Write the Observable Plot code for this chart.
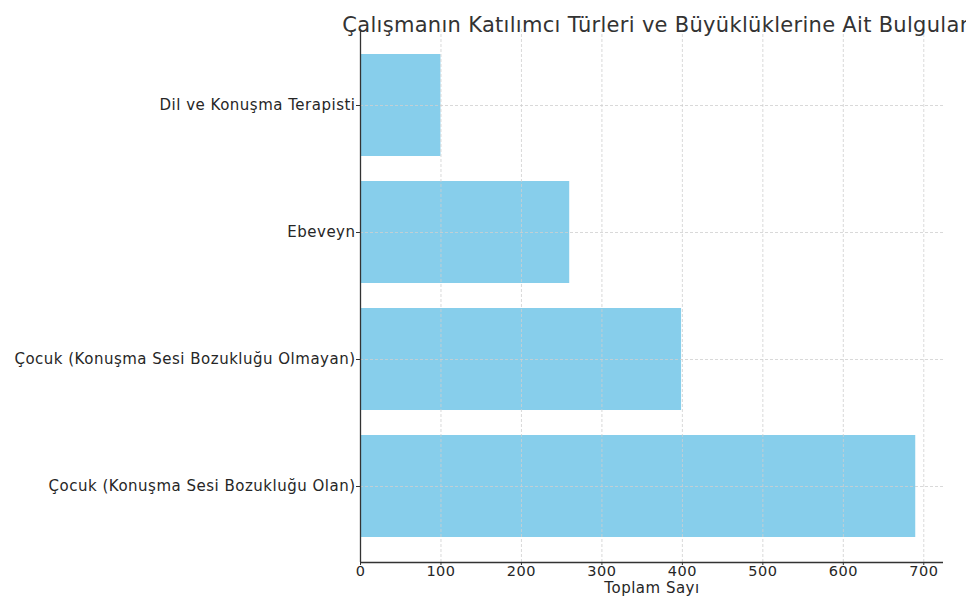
<!DOCTYPE html>
<html>
<head>
<meta charset="utf-8">
<script src="https://cdn.jsdelivr.net/npm/d3@7"></script>
<script src="https://cdn.jsdelivr.net/npm/@observablehq/plot@0.6"></script>
<style>
  html, body { margin: 0; padding: 0; background: #fff; }
  #chart { width: 966px; height: 599px; overflow: hidden; }
</style>
</head>
<body>
<div id="chart"></div>
<script>
const title = "Çalışmanın Katılımcı Türleri ve Büyüklüklerine Ait Bulguları";
const xLabel = "Toplam Sayı";
const categories = [
  "Dil ve Konuşma Terapisti",
  "Ebeveyn",
  "Çocuk (Konuşma Sesi Bozukluğu Olmayan)",
  "Çocuk (Konuşma Sesi Bozukluğu Olan)"
];
const values = [100, 260, 399, 690];
const xTicks = [0, 100, 200, 300, 400, 500, 600, 700];

const data = categories.map((c, i) => ({category: c, value: values[i]}));

const spineColor = "#333";
const gridColor = "#cfcfcf";
const textColor = "#262626";

const bottomSpine = (index, scales, values, dimensions) => {
  const {width, height, marginLeft, marginRight, marginBottom} = dimensions;
  const line = document.createElementNS("http://www.w3.org/2000/svg", "line");
  line.setAttribute("x1", marginLeft);
  line.setAttribute("x2", width - marginRight);
  line.setAttribute("y1", height - marginBottom + 0.5);
  line.setAttribute("y2", height - marginBottom + 0.5);
  line.setAttribute("stroke", spineColor);
  line.setAttribute("stroke-width", 1.3);
  return line;
};

const plot = Plot.plot({
  width: 966,
  height: 599,
  marginLeft: 360,
  marginRight: 23,
  marginTop: 29,
  marginBottom: 37,
  style: {fontFamily: "DejaVu Sans", fontSize: "15px", color: textColor, background: "#fff", letterSpacing: "0.5px"},
  x: {domain: [0, 724.5], ticks: xTicks, label: null},
  y: {domain: categories, paddingInner: 0.2, paddingOuter: 0.19, label: null},
  marks: [
    Plot.barX(data, {x: "value", y: "category", fill: "#87CEEB"}),
    Plot.gridX(xTicks, {stroke: gridColor, strokeOpacity: 1, strokeWidth: 0.8, strokeDasharray: "3,2"}),
    Plot.gridY(categories, {stroke: gridColor, strokeOpacity: 1, strokeWidth: 0.8, strokeDasharray: "3,2"}),
    Plot.axisX(xTicks, {tickSize: 3, tickPadding: 0, stroke: spineColor, fill: textColor, fontSize: 14.5, label: null}),
    Plot.axisY({tickSize: 4, tickPadding: 1, stroke: spineColor, fill: textColor, fontSize: 15, label: null}),
    Plot.ruleX([0], {stroke: spineColor, strokeWidth: 1.3}),
    bottomSpine,
    Plot.text([xLabel], {frameAnchor: "bottom", dy: 30, fontSize: 15, fill: textColor}),
    Plot.text([title], {frameAnchor: "top", dx: 6.5, dy: -12, fontSize: 21, fill: "#333"})
  ]
});
d3.select(plot).selectAll("text").filter(function() { return this.textContent === title; })
  .style("letter-spacing", "0.3px");
document.getElementById("chart").appendChild(plot);
</script>
</body>
</html>
